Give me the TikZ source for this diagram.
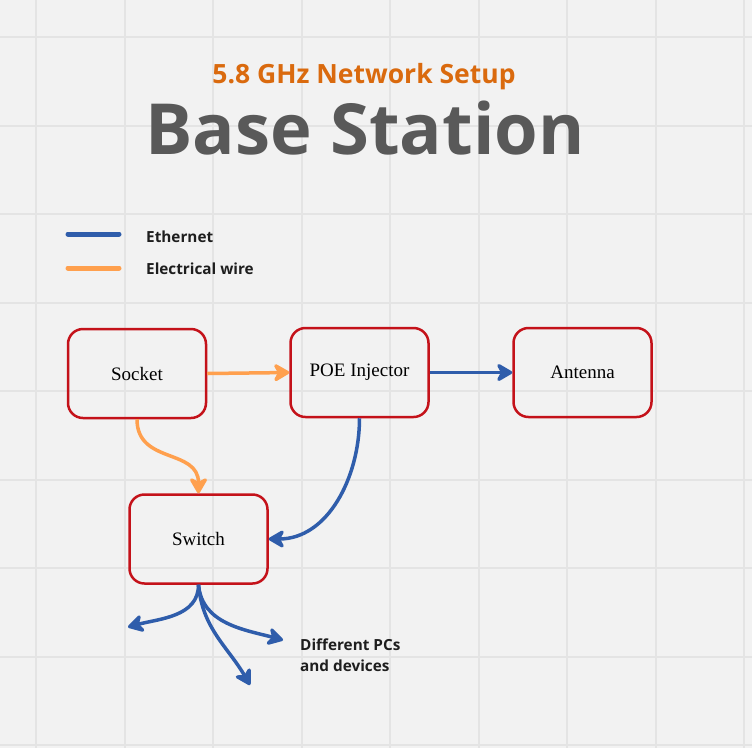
\documentclass[tikz,border=0pt]{standalone}
\usepackage{fontspec}
\usetikzlibrary{arrows.meta}
\newfontfamily\headfont{Open Sans}
\newfontfamily\boxfont{Liberation Serif}
\definecolor{bgcol}{HTML}{F2F2F2}
\definecolor{gridcol}{HTML}{E4E4E4}
\definecolor{boxred}{HTML}{C4121A}
\definecolor{ethblue}{HTML}{2F5DAB}
\definecolor{wireorange}{HTML}{FFA04E}
\definecolor{titleorange}{HTML}{DA6A0E}
\definecolor{titlegray}{HTML}{595959}
\definecolor{textblack}{HTML}{1E1E1E}
\begin{document}
\begin{tikzpicture}[x=1pt,y=1pt]
\tikzstyle{device} = [draw=boxred,line width=2.5pt,rounded corners=15pt,minimum width=138pt,minimum height=89pt,inner sep=0pt,font=\boxfont\fontsize{19}{22}\selectfont]
\tikzstyle{eth} = [draw=ethblue,line width=3.5pt,-{Stealth[length=19pt,width=22pt,inset=6pt,round]}]
\tikzstyle{power} = [draw=wireorange,line width=3.5pt,-{Stealth[length=19pt,width=22pt,inset=6pt,round]}]
\tikzstyle{legendtext} = [font=\headfont\bfseries\fontsize{15.3}{21}\selectfont,text=textblack,inner sep=0pt]
\def\gap{88.5}

\fill[bgcol] (0,0) rectangle (752,-748);
\useasboundingbox (0,0) rectangle (752,-748);
\foreach \i in {0,...,8} {
  \draw[gridcol,line width=2pt] (36+\i*\gap,0) -- (36+\i*\gap,-748);
  \draw[gridcol,line width=2pt] (0,-37-\i*\gap) -- (752,-37-\i*\gap);
}

\node[anchor=base,text=titleorange,font=\headfont\bfseries\fontsize{26.5}{30}\selectfont] (subtitle) at (364,-83) {5.8 GHz Network Setup};
\node[anchor=base,text=titlegray,font=\headfont\bfseries\fontsize{70.5}{80}\selectfont] (title) at (365,-154) {Base Station};

\coordinate (ethA) at (68,-234);
\coordinate (ethB) at (119,-234);
\coordinate (wireA) at (68,-268);
\coordinate (wireB) at (119,-268);
\draw[ethblue,line width=5pt,line cap=round] (ethA) -- (ethB);
\draw[wireorange,line width=5pt,line cap=round] (wireA) -- (wireB);
\node[legendtext,anchor=base west] (ethlabel) at (146,-242) {Ethernet};
\node[legendtext,anchor=base west] (wirelabel) at (146,-274) {Electrical wire};

\node[device] (socket) at (137,-373.5) {Socket};
\node[device] (poe) at (359.5,-372.5) {POE Injector};
\node[device] (antenna) at (582.5,-372.5) {Antenna};
\node[device] (switch) at (198.5,-539) {Switch};

\draw[power] (socket.east) -- (poe.west);
\draw[eth] (poe.east) -- (antenna.west);
\draw[power] (socket.south) to[out=-90,in=90,looseness=1.2] (switch.north);
\draw[eth] (poe.south) to[out=-90,in=0] (switch.east);

\coordinate (pcleft) at (128,-627);
\coordinate (pcright) at (283,-640);
\coordinate (pcdown) at (250,-685);
\draw[eth] (switch.south) to[out=-90,in=15] (pcleft);
\draw[eth] (switch.south) to[out=-85,in=165] (pcright);
\draw[eth] (switch.south) to[out=-85,in=120] (pcdown);

\node[legendtext,anchor=north west,align=left] (devices) at (300,-639) {Different PCs\\and devices};
\end{tikzpicture}
\end{document}
